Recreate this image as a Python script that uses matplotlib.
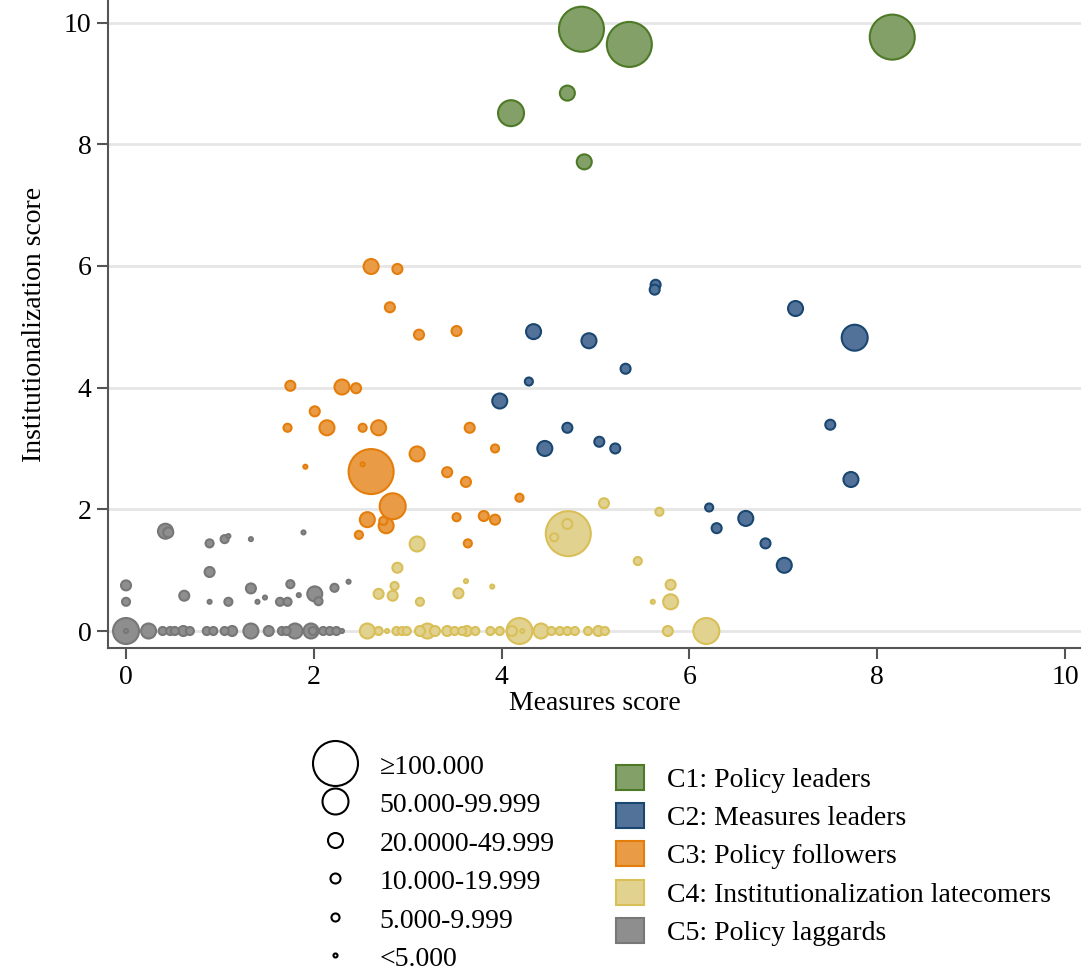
import matplotlib
matplotlib.use("Agg")
import matplotlib.pyplot as plt
from matplotlib.lines import Line2D
from matplotlib.patches import Patch
import numpy as np

plt.rcParams["font.family"] = ["Liberation Serif", "DejaVu Serif"]

# ------------------------------------------------------------
#  Data: measures score, institutionalization score, population class
#  population class: 0 <5.000, 1 5.000-9.999, 2 10.000-19.999,
#  3 20.000-49.999, 4 50.000-99.999, 5 >=100.000
# ------------------------------------------------------------
c1_x = [4.85, 5.36, 8.16, 4.10, 4.70, 4.88]
c1_y = [9.89, 9.64, 9.76, 8.51, 8.84, 7.71]
c1_p = [5, 5, 5, 4, 3, 3]

c2_x = [5.64, 5.63, 7.13, 7.76, 4.34, 4.93, 5.32, 4.29, 3.98, 4.70,
        4.46, 5.04, 5.21, 7.50, 7.72, 6.21, 6.60, 6.29, 6.81, 7.01]
c2_y = [5.69, 5.61, 5.30, 4.82, 4.92, 4.77, 4.31, 4.10, 3.78, 3.34,
        3.00, 3.11, 3.00, 3.39, 2.49, 2.03, 1.85, 1.69, 1.44, 1.08]
c2_p = [2, 2, 3, 4, 3, 3, 2, 1, 3, 2,
        3, 2, 2, 2, 3, 1, 3, 2, 2, 3]

c3_x = [2.61, 2.89, 2.81, 3.12, 3.52, 1.75, 2.30, 2.45, 2.01, 1.72,
        2.14, 2.52, 2.69, 3.66, 3.93, 3.10, 1.91, 2.61, 2.52, 3.42,
        3.62, 4.19, 2.84, 2.57, 2.77, 2.74, 2.48, 3.52, 3.81, 3.93, 3.64]
c3_y = [5.99, 5.95, 5.32, 4.87, 4.93, 4.03, 4.01, 3.99, 3.61, 3.34,
        3.34, 3.34, 3.34, 3.34, 3.00, 2.91, 2.70, 2.62, 2.74, 2.61,
        2.45, 2.19, 2.05, 1.83, 1.73, 1.81, 1.58, 1.87, 1.89, 1.83, 1.44]
c3_p = [3, 2, 2, 2, 2, 2, 3, 2, 2, 1,
        3, 1, 3, 2, 1, 3, 0, 5, 0, 2,
        2, 1, 4, 3, 3, 1, 1, 1, 2, 2, 1]

c4_x = [3.10, 2.89, 2.69, 2.86, 2.84, 3.13, 3.54, 3.62, 3.90, 4.71,
        4.70, 4.56, 5.09, 5.68, 5.45, 5.80, 5.61, 5.80,
        2.57, 2.69, 2.78, 2.88, 2.94, 2.99, 3.13, 3.21, 3.29, 3.42,
        3.50, 3.58, 3.63, 3.72, 3.88, 3.98, 4.11, 4.19, 4.22, 4.42,
        4.53, 4.62, 4.70, 4.78, 4.92, 5.03, 5.10, 5.77, 6.18]
c4_y = [1.43, 1.04, 0.61, 0.74, 0.58, 0.48, 0.62, 0.82, 0.73, 1.60,
        1.76, 1.54, 2.10, 1.96, 1.15, 0.76, 0.48, 0.48,
        0, 0, 0, 0, 0, 0, 0, 0, 0, 0,
        0, 0, 0, 0, 0, 0, 0, 0, 0, 0,
        0, 0, 0, 0, 0, 0, 0, 0, 0]
c4_p = [3, 2, 2, 1, 2, 1, 2, 0, 0, 5,
        2, 1, 2, 1, 1, 2, 0, 3,
        3, 1, 0, 1, 1, 1, 2, 3, 2, 2,
        1, 1, 2, 1, 1, 1, 2, 4, 0, 3,
        1, 1, 1, 1, 1, 2, 1, 2, 4]

c5_x = [0.42, 0.45, 0.89, 1.05, 1.09, 1.33, 1.89, 0.89, 0.00, 0.00,
        0.62, 0.89, 1.09, 1.33, 1.40, 1.48, 1.75, 1.64, 1.72, 1.84,
        2.01, 2.05, 2.22, 2.37,
        0.00, 0.00, 0.24, 0.39, 0.47, 0.52, 0.61, 0.68, 0.86, 0.93,
        1.05, 1.13, 1.33, 1.52, 1.66, 1.71, 1.80, 1.97, 1.99, 2.10,
        2.17, 2.24, 2.30]
c5_y = [1.64, 1.62, 1.44, 1.51, 1.56, 1.51, 1.62, 0.97, 0.75, 0.48,
        0.58, 0.48, 0.48, 0.70, 0.48, 0.55, 0.77, 0.48, 0.48, 0.59,
        0.61, 0.49, 0.71, 0.81,
        0, 0, 0, 0, 0, 0, 0, 0, 0, 0,
        0, 0, 0, 0, 0, 0, 0, 0, 0, 0,
        0, 0, 0]
c5_p = [3, 2, 1, 1, 0, 0, 0, 2, 2, 1,
        2, 0, 1, 2, 0, 0, 1, 1, 1, 0,
        3, 1, 1, 0,
        4, 0, 3, 1, 1, 1, 2, 1, 1, 1,
        1, 2, 3, 2, 1, 1, 3, 3, 1, 1,
        1, 1, 0]

cluster_labels = ["C1: Policy leaders", "C2: Measures leaders",
                  "C3: Policy followers", "C4: Institutionalization latecomers",
                  "C5: Policy laggards"]
size_labels = ["\u2265100.000", "50.000-99.999", "20.0000-49.999",
               "10.000-19.999", "5.000-9.999", "<5.000"]

# marker diameter (points) per population class
diam_pt = np.array([2.9, 5.8, 7.2, 10.8, 18.7, 32.4])

edge_cols = ["#4e7a27", "#1a4770", "#e47d0a", "#d9bf58", "#777777"]
face_cols = ["#83a068", "#53729a", "#e99c45", "#e2d290", "#8e8e8e"]

clusters = [(c5_x, c5_y, c5_p), (c4_x, c4_y, c4_p), (c3_x, c3_y, c3_p),
            (c2_x, c2_y, c2_p), (c1_x, c1_y, c1_p)]
order = [4, 3, 2, 1, 0]

FS = 20

fig = plt.figure(figsize=(10.81, 9.71), dpi=100)
ax = fig.add_axes([0.0999, 0.3326, 0.9001, 0.6674])

for (xs, ys, ps), k in zip(clusters, order):
    xs = np.array(xs)
    ys = np.array(ys)
    ps = np.array(ps)
    idx = np.argsort(-ps, kind="stable")
    ax.scatter(xs[idx], ys[idx], s=diam_pt[ps[idx]] ** 2,
               facecolor=face_cols[k], edgecolor=edge_cols[k],
               linewidth=1.5, zorder=3)

ax.set_xlim(-0.192, 10.17)
ax.set_ylim(-0.28, 10.37)
ax.set_xticks([0, 2, 4, 6, 8, 10])
ax.set_yticks([0, 2, 4, 6, 8, 10])
ax.yaxis.grid(True, color="#e6e6e6", linewidth=2, zorder=0)
ax.set_axisbelow(True)
for s in ["top", "right"]:
    ax.spines[s].set_visible(False)
for s in ["left", "bottom"]:
    ax.spines[s].set_color("#555555")
    ax.spines[s].set_linewidth(1.5)
ax.tick_params(direction="out", length=8, width=1.5, color="#555555",
               labelsize=FS, pad=4)
ax.set_xlabel("Measures score", fontsize=FS, labelpad=1)
ax.set_ylabel("Institutionalization score", fontsize=FS, labelpad=12)

# size legend
size_handles = [Line2D([], [], ls="", marker="o", markersize=d,
                       markerfacecolor="none", markeredgecolor="black",
                       markeredgewidth=1.5)
                for d in diam_pt[::-1]]
fig.legend(size_handles, size_labels, loc="upper left",
           bbox_to_anchor=(307 / 1081, 1 - 752 / 971), frameon=False,
           fontsize=FS, handlelength=2.0, handleheight=1.0, handletextpad=0.62,
           labelspacing=0.38, borderpad=0, borderaxespad=0)

# cluster legend
col_handles = [Patch(facecolor=face_cols[k], edgecolor=edge_cols[k], linewidth=1.5)
               for k in range(5)]
fig.legend(col_handles, cluster_labels, loc="upper left",
           bbox_to_anchor=(616 / 1081, 1 - 765 / 971), frameon=False,
           fontsize=FS, handlelength=1.0, handleheight=1.0,
           handletextpad=0.83, labelspacing=0.37, borderpad=0, borderaxespad=0)

fig.savefig("out.png", dpi=100)
